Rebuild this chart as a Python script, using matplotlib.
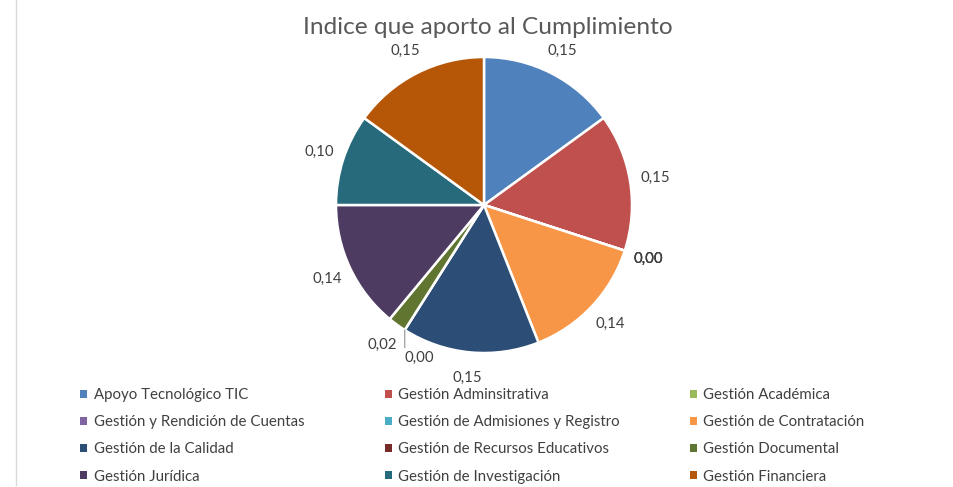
import numpy as np
import matplotlib.pyplot as plt
from matplotlib.patches import Patch
from matplotlib.lines import Line2D

# -----------------------
# Data
# -----------------------
categories = [
    "Apoyo Tecnológico TIC", "Gestión Adminsitrativa", "Gestión Académica",
    "Gestión y Rendición de Cuentas", "Gestión de Admisiones y Registro", "Gestión de Contratación",
    "Gestión de la Calidad", "Gestión de Recursos Educativos", "Gestión Documental",
    "Gestión Jurídica", "Gestión de Investigación", "Gestión Financiera",
]
values = [0.15, 0.15, 0.00, 0.00, 0.00, 0.14, 0.15, 0.00, 0.02, 0.14, 0.10, 0.15]
colors = [
    "#4F81BD", "#C0504D", "#9BBB59", "#8064A2", "#4BACC6", "#F79646",
    "#2C4D75", "#772C2A", "#5F7530", "#4D3B62", "#276A7C", "#B65708",
]
title = "Indice que aporto al Cumplimiento"

plt.rcParams['font.family'] = ['Lato', 'DejaVu Sans']

W, H = 954, 487
fig = plt.figure(figsize=(W / 100, H / 100), dpi=100)

# pie axes: center (484, 205) px, radius 148 px
cx, cy, r = 484, 205, 148
ax = fig.add_axes([(cx - r) / W, (H - cy - r) / H, 2 * r / W, 2 * r / H])
wedges, _ = ax.pie(values, colors=colors, startangle=90, counterclock=False,
                   radius=1.0, wedgeprops=dict(edgecolor="white", linewidth=1.8))
ax.set_xlim(-1, 1)
ax.set_ylim(-1, 1)
ax.set_aspect("equal")
ax.axis("off")

# data labels
lab_color = "#404040"
fs = 10.8
for i, (w, v) in enumerate(zip(wedges, values)):
    txt = f"{v:.2f}".replace(".", ",")
    mid = np.deg2rad((w.theta1 + w.theta2) / 2)
    if categories[i] == "Gestión de Recursos Educativos":
        px, py = np.cos(mid), np.sin(mid)
        ax.annotate(txt, xy=(px, py), xytext=(px, -1.03), ha="left", va="center",
                    fontsize=fs, color=lab_color, annotation_clip=False,
                    arrowprops=dict(arrowstyle="-", color="#A6A6A6", lw=1,
                                    relpos=(0, 1), shrinkA=0, shrinkB=0))
        continue
    ax.text(1.17 * np.cos(mid), 1.17 * np.sin(mid), txt, ha="center", va="center",
            fontsize=fs, color=lab_color)

# title
fig.text(488 / W, 1 - 28 / H, title, ha="center", va="center", fontsize=17.6, color="#595959")

# legend: three equal-width columns, filled row by row
col_x = [80, 385, 690]
for c in range(3):
    idx = list(range(c, len(categories), 3))
    handles = [Patch(facecolor=colors[i], edgecolor="none") for i in idx]
    fig.legend(handles, [categories[i] for i in idx], loc="upper left",
               bbox_to_anchor=(col_x[c] / W, 1 - 388 / H), frameon=False,
               fontsize=fs, labelcolor=lab_color, borderpad=0, borderaxespad=0,
               handlelength=0.45, handleheight=0.45, handletextpad=0.45,
               labelspacing=0.88)

# left border line
fig.add_artist(Line2D([16 / W, 16 / W], [0.005, 1], transform=fig.transFigure,
                      color="#D9D9D9", lw=1))

fig.savefig("out.png", dpi=100, facecolor="white")
